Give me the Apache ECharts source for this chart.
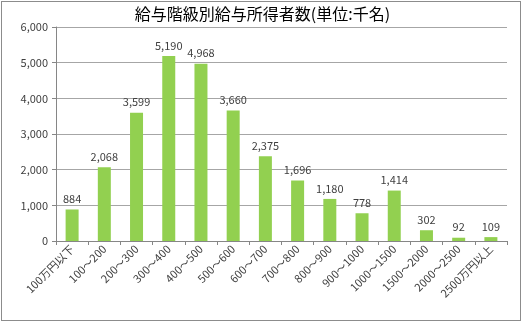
<!DOCTYPE html>
<html><head><meta charset="utf-8">
<script src="https://cdn.jsdelivr.net/npm/echarts@6/dist/echarts.min.js"></script>
<style>html,body{margin:0;padding:0;background:#fff}#c{width:525px;height:327px}
#frame{position:absolute;left:1px;top:1px;width:520px;height:320px;border:1px solid #8c8c8c;box-sizing:border-box;pointer-events:none}</style>
</head><body><div id="c"></div><div id="frame"></div>
<script>
const titleText = '給与階級別給与所得者数(単位:千名)';
const categories = ['100万円以下','100～200','200～300','300～400','400～500','500～600','600～700','700～800','800～900','900～1000','1000～1500','1500～2000','2000～2500','2500万円以上'];
const values = [884, 2068, 3599, 5190, 4968, 3660, 2375, 1696, 1180, 778, 1414, 302, 92, 109];
const yTicks = [0, 1000, 2000, 3000, 4000, 5000, 6000];

const font = '"Noto Sans CJK JP", "Noto Sans", sans-serif';
const chart = echarts.init(document.getElementById('c'));
chart.setOption({
  animation: false,
  title: {
    text: titleText, left: 'center', top: 4,
    backgroundColor: '#fff', padding: [2, 10, 2, 10],
    textStyle: { fontFamily: font, fontSize: 16, fontWeight: 'normal', color: '#000' }
  },
  grid: { left: 56, right: 18, top: 27, bottom: 86 },
  xAxis: {
    type: 'category', data: categories,
    axisLine: { lineStyle: { color: '#868686' } },
    axisTick: { show: true, length: 4, lineStyle: { color: '#868686' } },
    axisLabel: { rotate: 45, fontFamily: font, fontSize: 11, color: '#404040', margin: 6, interval: 0 }
  },
  yAxis: {
    type: 'value', min: yTicks[0], max: yTicks[yTicks.length - 1], interval: 1000,
    axisLine: { show: true, lineStyle: { color: '#868686' } },
    axisTick: { show: true, length: 4, lineStyle: { color: '#868686' } },
    splitLine: { lineStyle: { color: '#a6a6a6' } },
    axisLabel: { fontFamily: font, fontSize: 11, color: '#404040', margin: 8,
      formatter: v => v.toLocaleString('en-US') }
  },
  series: [{
    type: 'bar', data: values, barWidth: 13, z: 1,
    itemStyle: { color: '#92D050' },
    label: { show: true, position: 'top', distance: 5, fontFamily: font, fontSize: 11, color: '#404040',
      formatter: p => p.value.toLocaleString('en-US') }
  }]
});
</script></body></html>
